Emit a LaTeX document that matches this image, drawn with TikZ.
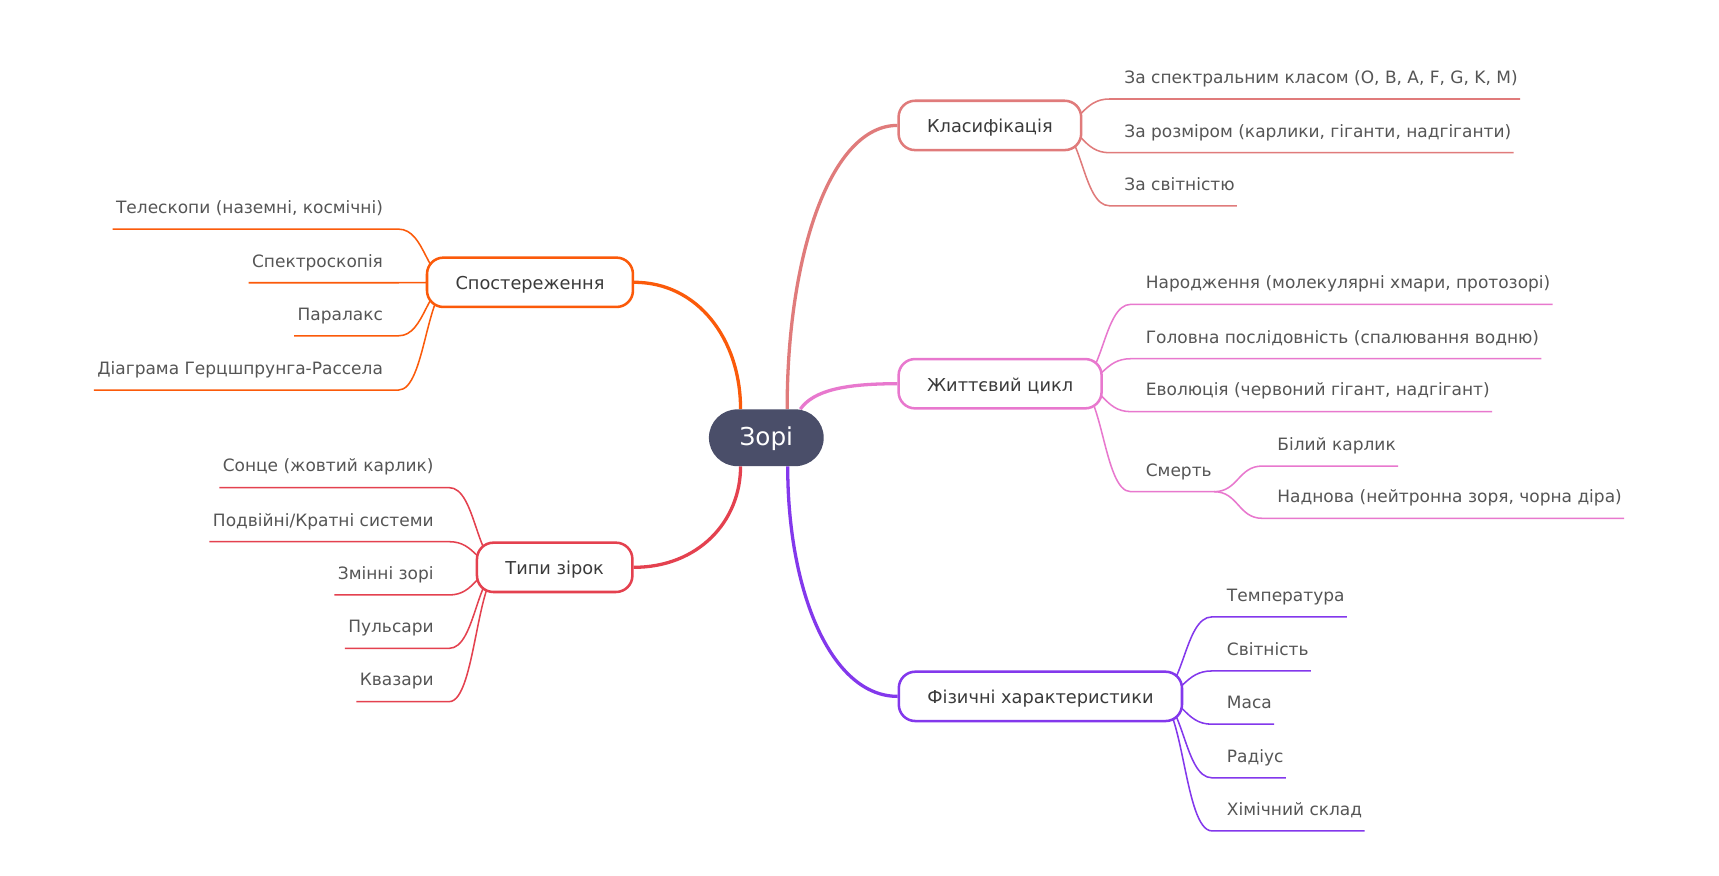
\documentclass[tikz,border=0pt]{standalone}
\usepackage{fontspec}
\setmainfont{DejaVu Sans}
\usetikzlibrary{calc}
\usetikzlibrary{backgrounds}
\definecolor{rootfill}{HTML}{4A4E69}
\definecolor{klascol}{HTML}{E07B7B}
\definecolor{lifecol}{HTML}{E878CE}
\definecolor{obscol}{HTML}{FB5A0A}
\definecolor{typecol}{HTML}{E4414F}
\definecolor{physcol}{HTML}{8338EC}
\definecolor{boxtext}{HTML}{3A3A3A}
\definecolor{leaftext}{HTML}{555555}
\tikzset{%
  rootnode/.style={rectangle,rounded corners=25.9pt,fill=rootfill,text=white,minimum height=51.8pt,inner xsep=28pt,text height=15pt,text depth=0pt,font=\fontsize{22.5}{27}\selectfont},
  topicbox/.style={rectangle,rounded corners=15pt,draw=#1,fill=white,line width=2.3pt,minimum height=45pt,inner xsep=26pt,text=boxtext,text height=13.4pt,text depth=0pt,font=\fontsize{16.2}{19}\selectfont},
  leafr/.style={anchor=base west,inner sep=0pt,text=leaftext,font=\fontsize{15.5}{18}\selectfont},
  leafl/.style={leafr,anchor=base east},
  mainedge/.style={draw=#1,line width=3pt},
  leafedge/.style={draw=#1,line width=1.4pt},
  hlink/.style={to path={let \p1=(\tikztostart),\p2=(\tikztotarget) in
    .. controls ({(\x1+\x2)/2},\y1) and ({(\x1+\x2)/2},\y2) .. (\tikztotarget)}},
  vhlink/.style={to path={let \p1=(\tikztostart),\p2=(\tikztotarget) in
    .. controls (\x1,{\y1+0.55*(\y2-\y1)}) and ({\x2-0.6*(\x2-\x1)},\y2) .. (\tikztotarget)}}
}

\begin{document}
\begin{tikzpicture}[x=1pt,y=-1pt]
  \useasboundingbox (0,0) rectangle (1568,799);
  % centre and branches
  \node[rootnode] (root) at (699,399.3) {Зорі};
  \node[topicbox=klascol,anchor=west] (klas) at (818.5,114.4) {Класифікація};
  \node[topicbox=lifecol,anchor=west] (life) at (818.5,350) {Життєвий цикл};
  \node[topicbox=physcol,anchor=west] (phys) at (818.7,635.2) {Фізичні характеристики};
  \node[topicbox=obscol,anchor=east] (obs) at (578.5,257.5) {Спостереження};
  \node[topicbox=typecol,anchor=east] (types) at (578,517.5) {Типи зірок};
  \coordinate (klassrc) at ([xshift=-25pt]klas.east);
  \coordinate (lifesrc) at ([xshift=-25pt]life.east);
  \coordinate (physsrc) at ([xshift=-25pt]phys.east);
  \coordinate (obssrc) at ([xshift=25pt]obs.west);
  \coordinate (typesrc) at ([xshift=25pt]types.west);
  % Класифікація
  \node[leafr] (k1) at (1025.5,76) {За спектральним класом (O, B, A, F, G, K, M)};
  \node[leafr] (k2) at (1025.5,125) {За розміром (карлики, гіганти, надгіганти)};
  \node[leafr] (k3) at (1025.5,173.4) {За світністю};
  % Життєвий цикл
  \node[leafr] (z1) at (1045,263.3) {Народження (молекулярні хмари, протозорі)};
  \node[leafr] (z2) at (1045,312.9) {Головна послідовність (спалювання водню)};
  \node[leafr] (z3) at (1045,361.2) {Еволюція (червоний гігант, надгігант)};
  \node[leafr] (z4) at (1045,434.2) {Смерть};
  \node[leafr] (z5) at (1165,410.8) {Білий карлик};
  \node[leafr] (z6) at (1165,458.5) {Наднова (нейтронна зоря, чорна діра)};
  % Фізичні характеристики
  \node[leafr] (f1) at (1119,548.4) {Температура};
  \node[leafr] (f2) at (1119,597.7) {Світність};
  \node[leafr] (f3) at (1119,646.3) {Маса};
  \node[leafr] (f4) at (1119,695.2) {Радіус};
  \node[leafr] (f5) at (1119,743.6) {Хімічний склад};
  % Спостереження
  \node[leafl] (s1) at (349.5,194.7) {Телескопи (наземні, космічні)};
  \node[leafl] (s2) at (349.5,243.6) {Спектроскопія};
  \node[leafl] (s3) at (349.5,292) {Паралакс};
  \node[leafl] (s4) at (349.5,341.5) {Діаграма Герцшпрунга-Рассела};
  % Типи зірок
  \node[leafl] (t1) at (395.7,430.5) {Сонце (жовтий карлик)};
  \node[leafl] (t2) at (395.7,479.8) {Подвійні/Кратні системи};
  \node[leafl] (t3) at (395.7,528.4) {Змінні зорі};
  \node[leafl] (t4) at (395.7,577.1) {Пульсари};
  \node[leafl] (t5) at (395.7,625.7) {Квазари};
  \coordinate (deathend) at ([xshift=2pt,yshift=-14.3pt]z4.base east);

  \begin{scope}[on background layer]
    \fill[white] (0,0) rectangle (1568,799);
    % branches from the centre
    \draw[mainedge=klascol] ([xshift=19pt]root.north) to[vhlink] (klas.west);
    \draw[mainedge=lifecol] ([xshift=31pt]root.north) .. controls +(12,-17) and +(-48.5,0) .. (life.west);
    \draw[mainedge=obscol] ([xshift=-23.5pt]root.north) to[vhlink] (obs.east);
    \draw[mainedge=typecol] ([xshift=-23.5pt]root.south) to[vhlink] (types.east);
    \draw[mainedge=physcol] ([xshift=19.5pt]root.south) to[vhlink] (phys.west);
    % leaves on the right
    \foreach \n in {k1,k2,k3}
      \draw[leafedge=klascol] (klassrc) to[hlink] ([xshift=-13.5pt,yshift=-14.3pt]\n.base west) -- ([xshift=2pt,yshift=-14.3pt]\n.base east);
    \foreach \n in {z1,z2,z3,z4}
      \draw[leafedge=lifecol] (lifesrc) to[hlink] ([xshift=-13.5pt,yshift=-14.3pt]\n.base west) -- ([xshift=2pt,yshift=-14.3pt]\n.base east);
    \foreach \n in {z5,z6}
      \draw[leafedge=lifecol] (deathend) to[hlink] ([xshift=-13.5pt,yshift=-14.3pt]\n.base west) -- ([xshift=2pt,yshift=-14.3pt]\n.base east);
    \foreach \n in {f1,f2,f3,f4,f5}
      \draw[leafedge=physcol] (physsrc) to[hlink] ([xshift=-13.5pt,yshift=-14.3pt]\n.base west) -- ([xshift=2pt,yshift=-14.3pt]\n.base east);
    % leaves on the left
    \foreach \n in {s1,s2,s3,s4}
      \draw[leafedge=obscol] (obssrc) to[hlink] ([xshift=14pt,yshift=-14.3pt]\n.base east) -- ([xshift=-3pt,yshift=-14.3pt]\n.base west);
    \foreach \n in {t1,t2,t3,t4,t5}
      \draw[leafedge=typecol] (typesrc) to[hlink] ([xshift=14pt,yshift=-14.3pt]\n.base east) -- ([xshift=-3pt,yshift=-14.3pt]\n.base west);
  \end{scope}
\end{tikzpicture}
\end{document}
